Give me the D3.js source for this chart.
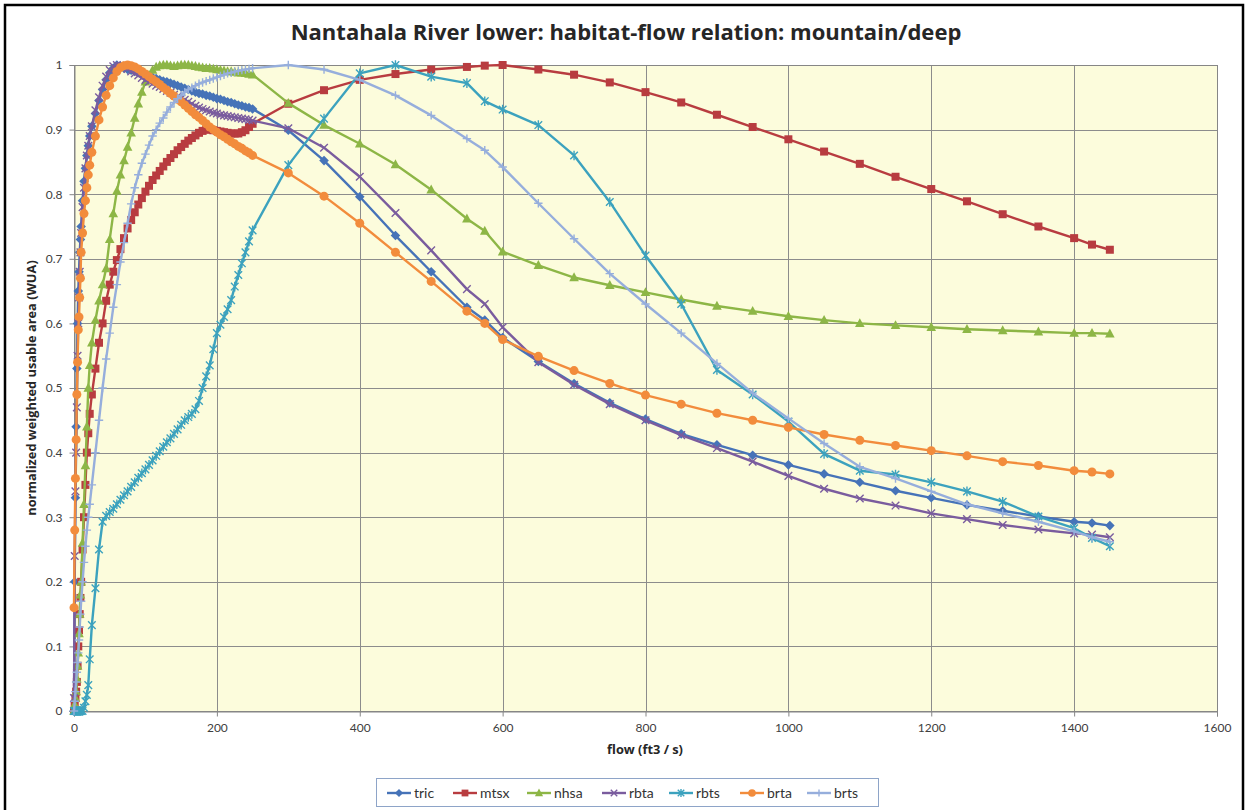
<!DOCTYPE html>
<html><head><meta charset="utf-8">
<script src="https://cdn.jsdelivr.net/npm/d3@7"></script>
<style>
html,body{margin:0;padding:0;background:#fff;}
svg{display:block;font-family:Lato,"Open Sans",sans-serif;}
</style></head>
<body><svg id="chart" width="1247" height="810"></svg>
<script>
const chartTitle = "Nantahala River lower: habitat-flow relation: mountain/deep";
const xTitle = "flow (ft3 / s)";
const yTitle = "normalized weighted usable area (WUA)";
const xTicks = [0,200,400,600,800,1000,1200,1400,1600];
const yTicks = [0,0.1,0.2,0.3,0.4,0.5,0.6,0.7,0.8,0.9,1];
const yTickLabels = ["0","0.1","0.2","0.3","0.4","0.5","0.6","0.7","0.8","0.9","1"];

const flows = [0,1,2,3,4,5,6,7,8,9,10,
 12,14,16,18,20,22,
 25,30,35,40,45,50,55,60,65,70,75,80,85,90,95,100,
 105,110,115,120,125,130,135,140,145,150,
 155,160,165,170,175,180,185,190,195,200,
 205,210,215,220,225,230,235,240,245,250,
 300,350,400,450,500,550,575,600,
 650,700,750,800,850,900,950,1000,1050,1100,1150,1200,1250,1300,1350,1400,
 1425,1450];

const tric = [0,0.2,0.33,0.44,0.53,0.6,0.65,0.68,0.71,0.73,0.75,
 0.79,0.82,0.84,0.86,0.875,0.89,
 0.905,0.925,0.945,0.962,0.977,0.988,0.995,1.0,0.998,0.995,0.993,0.992,0.99,0.989,0.987,0.985,
 0.983,0.981,0.979,0.977,0.975,0.974,0.972,0.97,0.968,0.966,
 0.964,0.962,0.96,0.958,0.956,0.955,0.953,0.952,0.95,0.948,
 0.947,0.945,0.943,0.942,0.94,0.938,0.937,0.935,0.934,0.932,
 0.899,0.852,0.796,0.736,0.68,0.625,0.605,0.578,
 0.541,0.507,0.477,0.452,0.429,0.412,0.396,0.381,0.367,0.354,0.341,0.33,0.319,0.31,0.301,0.293,
 0.291,0.287];

const mtsx = [0,0.01,0.02,0.03,0.045,0.07,0.1,0.125,0.15,0.175,0.2,
 0.25,0.3,0.35,0.4,0.43,0.46,
 0.49,0.53,0.57,0.6,0.635,0.66,0.68,0.698,0.715,0.732,0.747,0.76,0.772,0.784,0.794,0.804,
 0.813,0.822,0.829,0.836,0.843,0.85,0.856,0.862,0.868,0.873,
 0.878,0.883,0.887,0.891,0.895,0.898,0.9,0.9,0.899,0.898,
 0.897,0.896,0.895,0.894,0.894,0.894,0.896,0.899,0.904,0.909,
 0.94,0.961,0.977,0.986,0.993,0.997,0.999,1.0,
 0.993,0.985,0.973,0.958,0.942,0.923,0.904,0.885,0.866,0.847,0.827,0.808,0.789,0.769,0.75,0.732,
 0.722,0.714];

const nhsa = [0,0.01,0.02,0.03,0.05,0.07,0.09,0.12,0.15,0.18,0.2,
 0.26,0.32,0.38,0.44,0.5,0.535,
 0.57,0.605,0.635,0.66,0.685,0.73,0.77,0.805,0.83,0.852,0.873,0.895,0.918,0.94,0.958,0.974,
 0.984,0.992,0.997,0.999,1.0,1.0,0.999,0.998,0.999,1.0,
 1.0,1.0,0.999,0.998,0.997,0.996,0.995,0.995,0.994,0.993,
 0.992,0.991,0.99,0.99,0.989,0.988,0.988,0.987,0.986,0.985,
 0.941,0.907,0.878,0.846,0.807,0.762,0.743,0.711,
 0.69,0.671,0.659,0.648,0.637,0.627,0.619,0.611,0.605,0.6,0.597,0.594,0.591,0.589,0.587,0.585,
 0.585,0.584];

const rbta = [0.02,0.24,0.34,0.4,0.47,0.55,0.6,0.64,0.68,0.71,0.74,
 0.78,0.81,0.84,0.86,0.875,0.89,
 0.905,0.93,0.95,0.968,0.982,0.992,0.998,1.0,0.999,0.997,0.994,0.99,0.987,0.984,0.98,0.977,
 0.974,0.971,0.968,0.966,0.963,0.96,0.957,0.954,0.951,0.948,
 0.946,0.943,0.94,0.937,0.934,0.932,0.93,0.928,0.926,0.925,
 0.923,0.922,0.921,0.92,0.919,0.918,0.917,0.916,0.915,0.914,
 0.902,0.872,0.827,0.771,0.713,0.653,0.63,0.594,
 0.54,0.505,0.475,0.45,0.427,0.407,0.386,0.364,0.344,0.329,0.318,0.306,0.297,0.288,0.281,0.275,
 0.273,0.269];

const rbts = [0,0,0,0,0,0,0,0,0,0,0,
 0,0.005,0.015,0.025,0.04,0.08,
 0.133,0.19,0.25,0.293,0.302,0.308,0.313,0.32,0.327,0.334,0.34,0.347,0.354,0.361,0.368,0.374,
 0.381,0.388,0.395,0.402,0.409,0.416,0.422,0.429,0.436,0.443,
 0.45,0.455,0.46,0.467,0.48,0.5,0.518,0.535,0.56,0.585,
 0.598,0.61,0.622,0.636,0.657,0.675,0.693,0.71,0.727,0.744,
 0.845,0.917,0.987,1.0,0.982,0.972,0.944,0.931,
 0.907,0.86,0.788,0.705,0.63,0.528,0.49,0.448,0.398,0.372,0.366,0.354,0.34,0.324,0.301,0.283,
 0.268,0.255];

const brta = [0.16,0.28,0.36,0.42,0.49,0.54,0.59,0.61,0.64,0.67,0.71,
 0.74,0.77,0.79,0.81,0.83,0.845,
 0.865,0.89,0.915,0.935,0.953,0.968,0.98,0.99,0.996,0.999,1.0,0.999,0.997,0.994,0.99,0.986,
 0.982,0.978,0.974,0.97,0.965,0.961,0.956,0.952,0.947,0.943,
 0.938,0.933,0.928,0.923,0.919,0.914,0.909,0.904,0.9,0.896,
 0.892,0.889,0.885,0.881,0.878,0.874,0.871,0.867,0.864,0.86,
 0.833,0.797,0.755,0.71,0.665,0.619,0.6,0.575,
 0.549,0.527,0.507,0.489,0.475,0.461,0.45,0.439,0.428,0.419,0.411,0.403,0.395,0.386,0.38,0.372,
 0.37,0.367];

const brts = [0,0.015,0.03,0.045,0.06,0.075,0.09,0.11,0.13,0.15,0.17,
 0.2,0.23,0.255,0.28,0.3,0.32,
 0.35,0.4,0.45,0.5,0.545,0.585,0.625,0.66,0.695,0.725,0.755,0.785,0.81,0.83,0.848,0.862,
 0.876,0.89,0.9,0.91,0.918,0.927,0.935,0.942,0.948,0.953,
 0.958,0.962,0.965,0.968,0.971,0.973,0.975,0.977,0.979,0.981,
 0.983,0.985,0.987,0.988,0.99,0.991,0.992,0.993,0.994,0.995,
 1.0,0.993,0.977,0.953,0.922,0.886,0.868,0.842,
 0.786,0.731,0.677,0.63,0.585,0.538,0.492,0.453,0.414,0.378,0.36,0.34,0.32,0.306,0.293,0.278,
 0.269,0.262];

const seriesNames = ["tric","mtsx","nhsa","rbta","rbts","brta","brts"];
const seriesValues = [tric,mtsx,nhsa,rbta,rbts,brta,brts];
const seriesColors = ["#4673B8","#B83C40","#8DB646","#7A5C9E","#3CA2BE","#F28C3C","#96AEDC"];
const seriesMarkers = ["diamond","square","triangle","x","star","circle","plus"];

const svg = d3.select("#chart");
const W = 1247, H = 810;
const plot = {left:74, right:1217, top:65, bottom:711};

// outer frame
svg.append("rect").attr("x",5).attr("y",5).attr("width",W-9).attr("height",H+10)
  .attr("fill","#fff").attr("stroke","#000").attr("stroke-width",2.5);

const x = d3.scaleLinear().domain([0,1600]).range([plot.left, plot.right]);
const y = d3.scaleLinear().domain([0,1]).range([plot.bottom, plot.top]);

// plot background
svg.append("rect").attr("x",plot.left).attr("y",plot.top)
  .attr("width",plot.right-plot.left).attr("height",plot.bottom-plot.top)
  .attr("fill","#FCFCDC");

// gridlines
const grid = svg.append("g").attr("stroke","#8C8C8C").attr("stroke-width",1);
yTicks.forEach(v=>{
  grid.append("line").attr("x1",plot.left).attr("x2",plot.right)
    .attr("y1",Math.round(y(v))+0.5).attr("y2",Math.round(y(v))+0.5);
});
xTicks.forEach(v=>{
  grid.append("line").attr("y1",plot.top).attr("y2",plot.bottom)
    .attr("x1",Math.round(x(v))+0.5).attr("x2",Math.round(x(v))+0.5);
});
svg.append("rect").attr("x",plot.left+0.5).attr("y",plot.top+0.5)
  .attr("width",plot.right-plot.left).attr("height",plot.bottom-plot.top)
  .attr("fill","none").attr("stroke","#868686").attr("stroke-width",1);

// axes
const xAxis = d3.axisBottom(x).tickValues(xTicks).tickSize(5).tickPadding(7).tickFormat(d3.format("d"));
const gx = svg.append("g").attr("transform",`translate(0,${plot.bottom+0.5})`).call(xAxis);
const yAxis = d3.axisLeft(y).tickValues(yTicks).tickSize(5).tickPadding(7).tickFormat((d,i)=>yTickLabels[i]);
const gy = svg.append("g").attr("transform",`translate(${plot.left+0.5},0)`).call(yAxis);
[gx,gy].forEach(g=>{
  g.select(".domain").attr("stroke","#868686");
  g.selectAll(".tick line").attr("stroke","#868686");
  g.selectAll(".tick text").attr("fill","#404040").style("font-size","12px").style("font-family","Lato, sans-serif");
});

// fit a text element to a target width by adjusting its font size; returns the size used
function fitText(t, base, target){
  t.style("font-size", base+"px");
  const len = t.node().getComputedTextLength();
  const size = len>0 ? base*target/len : base;
  t.style("font-size", size.toFixed(2)+"px");
  return size;
}

// titles
const tt = svg.append("text").attr("x",626).attr("y",40).attr("text-anchor","middle")
  .style("font-family","'Open Sans', sans-serif").style("font-weight","bold").attr("fill","#262626").text(chartTitle);
fitText(tt, 20, 671);
const xt = svg.append("text").attr("x",645).attr("y",754).attr("text-anchor","middle")
  .style("font-family","'Open Sans', sans-serif").style("font-weight","bold").attr("fill","#262626").text(xTitle);
const axisTitleSize = fitText(xt, 11, 76);
svg.append("text").attr("transform",`translate(36,388) rotate(-90)`)
  .attr("text-anchor","middle").style("font-family","'Open Sans', sans-serif").style("font-weight","bold")
  .style("font-size", axisTitleSize.toFixed(2)+"px").attr("fill","#262626").text(yTitle);

// markers
function drawMarker(g, type, color, cx, cy, s){
  s = s || 1;
  if(type==="diamond"){
    g.append("path").attr("d",`M${cx},${cy-4.8*s}L${cx+4.8*s},${cy}L${cx},${cy+4.8*s}L${cx-4.8*s},${cy}Z`).attr("fill",color);
  } else if(type==="square"){
    g.append("rect").attr("x",cx-4*s).attr("y",cy-4*s).attr("width",8*s).attr("height",8*s).attr("fill",color);
  } else if(type==="triangle"){
    g.append("path").attr("d",`M${cx},${cy-5.2*s}L${cx+4.8*s},${cy+3.7*s}L${cx-4.8*s},${cy+3.7*s}Z`).attr("fill",color);
  } else if(type==="circle"){
    g.append("circle").attr("cx",cx).attr("cy",cy).attr("r",4.5*s).attr("fill",color);
  } else if(type==="x"){
    g.append("path").attr("d",`M${cx-3.8*s},${cy-3.8*s}L${cx+3.8*s},${cy+3.8*s}M${cx-3.8*s},${cy+3.8*s}L${cx+3.8*s},${cy-3.8*s}`)
      .attr("stroke",color).attr("stroke-width",1.4).attr("fill","none");
  } else if(type==="star"){
    g.append("path").attr("d",`M${cx-3.8*s},${cy-3.8*s}L${cx+3.8*s},${cy+3.8*s}M${cx-3.8*s},${cy+3.8*s}L${cx+3.8*s},${cy-3.8*s}M${cx},${cy-4.8*s}L${cx},${cy+4.8*s}`)
      .attr("stroke",color).attr("stroke-width",1.4).attr("fill","none");
  } else if(type==="plus"){
    g.append("path").attr("d",`M${cx-4.2*s},${cy}L${cx+4.2*s},${cy}M${cx},${cy-4.2*s}L${cx},${cy+4.2*s}`)
      .attr("stroke",color).attr("stroke-width",1.4).attr("fill","none");
  }
}

const line = d3.line().x(d=>x(d[0])).y(d=>y(d[1]));
seriesNames.forEach((name,i)=>{
  const data = flows.map((f,j)=>[f, seriesValues[i][j]]);
  const g = svg.append("g").attr("class","series-"+name);
  g.append("path").datum(data).attr("d",line).attr("fill","none")
    .attr("stroke",seriesColors[i]).attr("stroke-width",2.4).attr("stroke-linejoin","round");
  data.forEach(d=>drawMarker(g, seriesMarkers[i], seriesColors[i], x(d[0]), y(d[1])));
});

// legend
const lg = svg.append("g");
lg.append("rect").attr("x",376.5).attr("y",778.5).attr("width",502).attr("height",28)
  .attr("fill","#fff").attr("stroke","#8EA4C8").attr("stroke-width",1);
const legendX = [387,453,527,602,669,740,807];
seriesNames.forEach((name,i)=>{
  const lx = legendX[i], ly = 793;
  lg.append("line").attr("x1",lx).attr("x2",lx+24).attr("y1",ly).attr("y2",ly)
    .attr("stroke",seriesColors[i]).attr("stroke-width",2.4);
  drawMarker(lg, seriesMarkers[i], seriesColors[i], lx+12, ly, 0.85);
  lg.append("text").attr("x",lx+27).attr("y",ly+5).style("font-size","14px").attr("fill","#333").text(name);
});
</script></body></html>
